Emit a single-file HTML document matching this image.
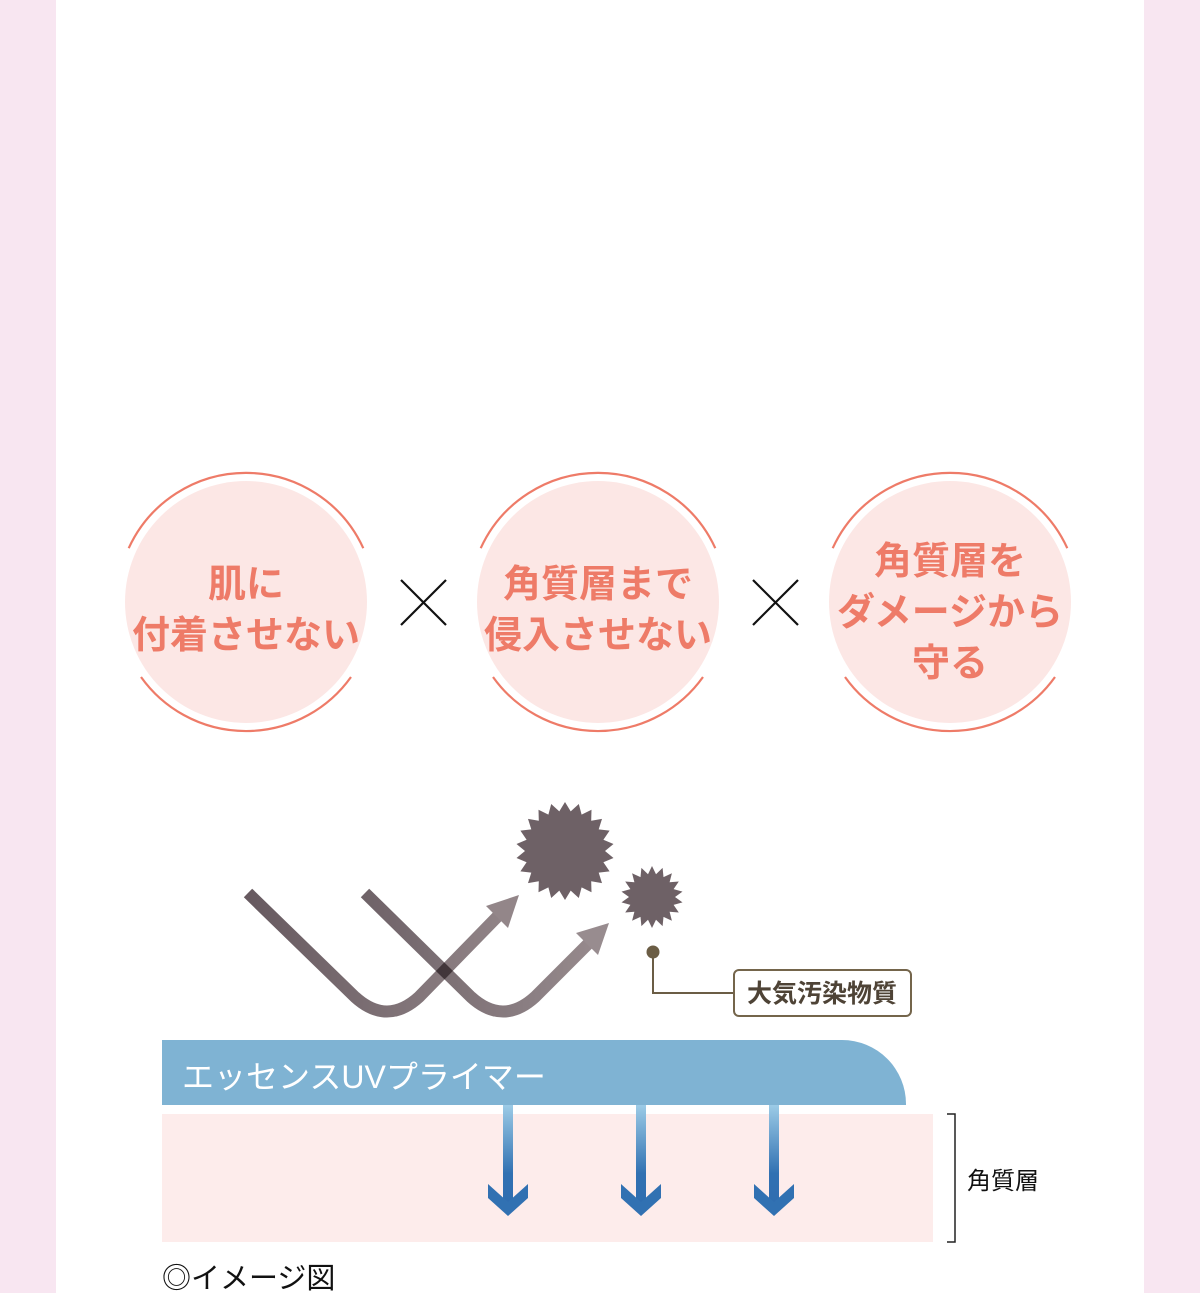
<!DOCTYPE html>
<html><head><meta charset="utf-8"><style>
html,body{margin:0;padding:0;}
body{width:1200px;height:1293px;background:#f8e6f1;position:relative;overflow:hidden;font-family:"Liberation Sans","Noto Sans CJK JP",sans-serif;}
#w{position:absolute;left:56px;top:0;width:1088px;height:1293px;background:#fff;}
svg{position:absolute;left:0;top:0;}
</style></head><body>
<div id="w"></div>
<svg width="1200" height="1293" viewBox="0 0 1200 1293" xmlns="http://www.w3.org/2000/svg">
<defs>
<linearGradient id="bg" x1="0" y1="0" x2="0" y2="1">
<stop offset="0" stop-color="#9ccbe6"/><stop offset="0.7" stop-color="#3171b2"/><stop offset="1" stop-color="#2f6db0"/>
</linearGradient>
<linearGradient id="gv1" gradientUnits="userSpaceOnUse" x1="248" y1="0" x2="520" y2="0">
<stop offset="0" stop-color="#675a60"/><stop offset="1" stop-color="#938689"/>
</linearGradient>
<linearGradient id="gv2" gradientUnits="userSpaceOnUse" x1="365" y1="0" x2="610" y2="0">
<stop offset="0" stop-color="#675a60"/><stop offset="1" stop-color="#938689"/>
</linearGradient>
</defs>
<g fill="#fce7e5" stroke="none">
<circle cx="246" cy="602" r="121"/><circle cx="598" cy="602" r="121"/><circle cx="950" cy="602" r="121"/>
</g>
<g fill="none" stroke="#ee7b68" stroke-width="2.2" id="arcs"></g>
<g fill="#ee7b68" font-size="38" font-weight="bold" text-anchor="middle" font-family="'Liberation Sans','Noto Sans CJK JP',sans-serif">
<text x="246" y="597">肌に</text><text x="246" y="648">付着させない</text>
<text x="598" y="597">角質層まで</text><text x="598" y="648">侵入させない</text>
<text x="950" y="574">角質層を</text><text x="950" y="625">ダメージから</text><text x="950" y="676">守る</text>
</g>
<g stroke="#111" stroke-width="2.2">
<line x1="401" y1="580" x2="446" y2="625"/><line x1="446" y1="580" x2="401" y2="625"/>
<line x1="753" y1="580" x2="798" y2="625"/><line x1="798" y1="580" x2="753" y2="625"/>
</g>
<!-- V arrows -->
<g style="mix-blend-mode:multiply">
<path d="M248 893 L355 997 Q387 1026 419 997 L498 916" fill="none" stroke="url(#gv1)" stroke-width="12"/>
<polygon points="519,895 486,906 508,928" fill="#938689"/>
</g>
<g style="mix-blend-mode:multiply" opacity="0.95">
<path d="M365 893 L471 997 Q503 1026 535 997 L588 944" fill="none" stroke="url(#gv2)" stroke-width="12"/>
<polygon points="609,923 576,933 598,955" fill="#938689"/>
</g>
<!-- stars -->
<polygon id="s1" fill="#6e6166"/><polygon id="s2" fill="#6e6166"/>
<circle cx="653" cy="952" r="6.5" fill="#6b5d45"/>
<polyline points="653,952 653,993 733,993" fill="none" stroke="#6b5d45" stroke-width="2"/>
<rect x="734" y="970" width="177" height="46" rx="5" fill="#fff" stroke="#74654b" stroke-width="2"/>
<text x="822" y="1002" text-anchor="middle" font-size="25" font-weight="bold" fill="#4e4336" font-family="'Liberation Sans','Noto Sans CJK JP',sans-serif">大気汚染物質</text>
<!-- layers -->
<rect x="162" y="1114" width="771" height="128" fill="#fdeceb"/>
<path d="M162 1040 H842 A64 64 0 0 1 906 1104 V1105 H162 Z" fill="#7fb3d3"/>
<text x="182" y="1088" font-size="32" fill="#fff" font-family="'Liberation Sans','Noto Sans CJK JP',sans-serif">エッセンスUVプライマー</text>
<g id="barrows"></g>
<polyline points="947,1114 955,1114 955,1242 947,1242" fill="none" stroke="#222" stroke-width="1.5"/>
<text x="967" y="1189" font-size="24" fill="#111" font-family="'Liberation Sans','Noto Sans CJK JP',sans-serif">角質層</text>
<text x="162" y="1288" font-size="29" fill="#111" font-family="'Liberation Sans','Noto Sans CJK JP',sans-serif">◎イメージ図</text>
</svg>
<script>
var NS="http://www.w3.org/2000/svg";
function el(t,a,p){var e=document.createElementNS(NS,t);for(var k in a)e.setAttribute(k,a[k]);(p||document.querySelector('svg')).appendChild(e);return e;}
var arcs=document.getElementById('arcs');
[246,598,950].forEach(function(cx){var cy=602,r=129;
function pt(a){return (cx+r*Math.cos(a)).toFixed(1)+' '+(cy+r*Math.sin(a)).toFixed(1);}
el('path',{d:'M'+pt(Math.PI+0.43)+' A'+r+' '+r+' 0 0 1 '+pt(-0.43)},arcs);
el('path',{d:'M'+pt(0.62)+' A'+r+' '+r+' 0 0 1 '+pt(Math.PI-0.62)},arcs);
});
function star(id,cx,cy,ro,ri,n){var p=[];for(var i=0;i<2*n;i++){var r=i%2?ri:ro,a=i*Math.PI/n-Math.PI/2;p.push((cx+r*Math.cos(a)).toFixed(1)+','+(cy+r*Math.sin(a)).toFixed(1));}document.getElementById(id).setAttribute('points',p.join(' '));}
star('s1',565,851,49,40,22);star('s2',652,897,31,23,18);
var ba=document.getElementById('barrows');
[508,641,774].forEach(function(x){
 el('rect',{x:x-5,y:1105,width:10,height:98,fill:'url(#bg)'},ba);
 el('polygon',{points:(x-20)+',1184 '+(x-20)+',1198 '+x+',1216 '+(x+20)+',1198 '+(x+20)+',1184 '+(x)+',1202',fill:'#3171b2'},ba);
});
</script>
</body></html>
